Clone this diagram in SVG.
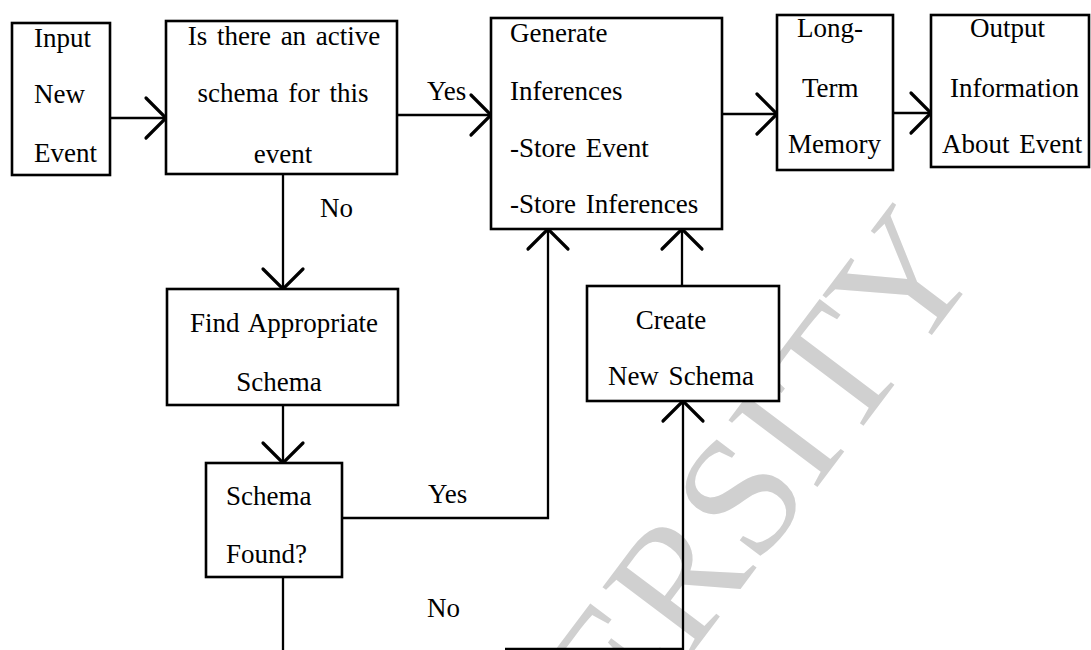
<svg xmlns="http://www.w3.org/2000/svg" width="1091" height="650" viewBox="0 0 1091 650">
<style>
.box{fill:#fff;stroke:#000;stroke-width:2.6}
.t{font-family:"Liberation Serif","Times New Roman",serif;font-size:27px;fill:#000;word-spacing:3px}
.c{text-anchor:middle}
.line{fill:none;stroke:#000;stroke-width:2.3}
.head{fill:none;stroke:#000;stroke-width:3.2;stroke-linecap:round;stroke-linejoin:miter}
.wm{font-family:"Liberation Serif","Times New Roman",serif;font-size:170px;fill:#d0d0d0}
</style>
<rect width="1091" height="650" fill="#fff"/>
<g id="watermark">
<text class="wm" transform="translate(626,741) rotate(-53)">ERSITY</text>
</g>
<g id="connectors">
<path class="line" d="M110,118 H166"/>
<path class="head" d="M146,98 L166,118 L146,138"/>
<path class="line" d="M397,115 H491"/>
<path class="head" d="M471,95 L491,115 L471,135"/>
<path class="line" d="M722,114 H777"/>
<path class="head" d="M757,94 L777,114 L757,134"/>
<path class="line" d="M893,113 H931"/>
<path class="head" d="M911,93 L931,113 L911,133"/>
<path class="line" d="M283,174 V289"/>
<path class="head" d="M263,269 L283,289 L303,269"/>
<path class="line" d="M283,405 V463"/>
<path class="head" d="M263,443 L283,463 L303,443"/>
<path class="line" d="M342,518 H548 V229"/>
<path class="head" d="M528,249 L548,229 L568,249"/>
<path class="line" d="M682,286 V229"/>
<path class="head" d="M662,249 L682,229 L702,249"/>
<path class="line" d="M283,577 V652 M505,649 H683 V401"/>
<path class="head" d="M663,421 L683,401 L703,421"/>
<text class="t" x="427" y="100">Yes</text>
<text class="t" x="320" y="217">No</text>
<text class="t" x="428" y="503">Yes</text>
<text class="t" x="427" y="617">No</text>
</g>
<g id="input">
<rect class="box" x="12" y="23" width="98" height="152"/>
<text class="t" x="34" y="47">Input</text>
<text class="t" x="34" y="103">New</text>
<text class="t" x="34" y="162">Event</text>
</g>
<g id="active">
<rect class="box" x="166" y="21" width="231" height="153"/>
<text class="t c" x="284" y="45">Is there an active</text>
<text class="t c" x="283" y="102">schema for this</text>
<text class="t c" x="283" y="163">event</text>
</g>
<g id="generate">
<rect class="box" x="491" y="18" width="231" height="211"/>
<text class="t" x="510" y="42">Generate</text>
<text class="t" x="510" y="100">Inferences</text>
<text class="t" x="510" y="157">-Store Event</text>
<text class="t" x="510" y="213">-Store Inferences</text>
</g>
<g id="ltm">
<rect class="box" x="777" y="15" width="116" height="155"/>
<text class="t" x="797" y="37">Long-</text>
<text class="t" x="802" y="97">Term</text>
<text class="t" x="788" y="153">Memory</text>
</g>
<g id="output">
<rect class="box" x="931" y="15" width="158" height="152"/>
<text class="t" x="970" y="37">Output</text>
<text class="t" x="950" y="97">Information</text>
<text class="t" x="942" y="153">About Event</text>
</g>
<g id="find">
<rect class="box" x="167" y="289" width="231" height="116"/>
<text class="t c" x="284" y="332">Find Appropriate</text>
<text class="t c" x="279" y="391">Schema</text>
</g>
<g id="found">
<rect class="box" x="206" y="463" width="136" height="114"/>
<text class="t" x="226" y="505">Schema</text>
<text class="t" x="226" y="563">Found?</text>
</g>
<g id="create">
<rect class="box" x="587" y="286" width="192" height="115"/>
<text class="t c" x="671" y="329">Create</text>
<text class="t c" x="681" y="385">New Schema</text>
</g>
</svg>
